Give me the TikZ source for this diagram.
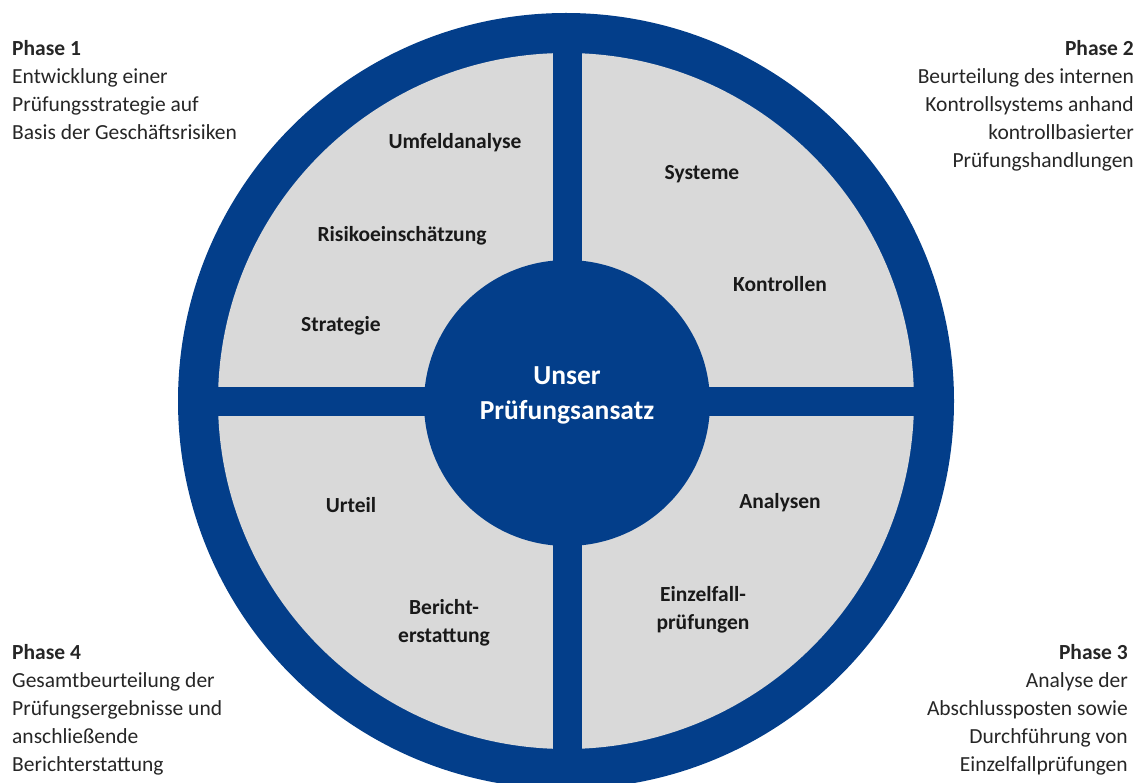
\documentclass[tikz,border=0pt]{standalone}
\usepackage{fontspec}
\setmainfont{Carlito}
\usetikzlibrary{positioning}

\definecolor{ringblue}{RGB}{3,62,138}
\definecolor{fieldgray}{RGB}{217,217,217}

\begin{document}
\begin{tikzpicture}[
  x=1pt, y=-1pt,
  item/.style = {font=\fontsize{21.5}{28}\selectfont\bfseries, align=center, text=black!90},
  hub/.style = {circle, fill=ringblue, minimum size=286pt, inner sep=0pt},
  hubtext/.style = {text=white, align=center, font=\fontsize{27.5}{35}\selectfont\bfseries},
  phase/.style = {font=\fontsize{21.5}{28}\selectfont, inner sep=0pt, text=black!85}
]
  \useasboundingbox (0,0) rectangle (1146,783);

  % Ring and the four fields
  \fill[ringblue] (566,401) circle (388pt);
  \fill[fieldgray] (566,401) circle (348pt);
  \fill[ringblue] (200,387) rectangle (932,416);
  \fill[ringblue] (553,30) rectangle (582,772);

  % Centre
  \node[hub] (hub) at (567,403) {};
  \node[hubtext] (ansatz) at ([yshift=8pt]hub.center) {Unser\\Prüfungsansatz};

  % Field entries
  \node[item] (umfeld) at (455,143) {Umfeldanalyse};
  \node[item] (risiko) at (402,236) {Risikoeinschätzung};
  \node[item] (strategie) at (341,326) {Strategie};
  \node[item] (systeme) at (702,174) {Systeme};
  \node[item] (kontrollen) at (780,284) {Kontrollen};
  \node[item] (analysen) at (780,503) {Analysen};
  \node[item] (einzelfall) at (703,610) {Einzelfall-\\prüfungen};
  \node[item] (urteil) at (351,505) {Urteil};
  \node[item] (bericht) at (444,623) {Bericht-\\erstattung};

  % Phase descriptions
  \node[phase, anchor=north west, align=left] (phase1) at (12,40)
    {\textbf{Phase 1}\\Entwicklung einer\\Prüfungsstrategie auf\\Basis der Geschäftsrisiken};
  \node[phase, anchor=north east, align=right] (phase2) at (1134,40)
    {\textbf{Phase 2}\\Beurteilung des internen\\Kontrollsystems anhand\\kontrollbasierter\\Prüfungshandlungen};
  \node[phase, anchor=north east, align=right] (phase3) at (1128,644)
    {\textbf{Phase 3}\\Analyse der\\Abschlussposten sowie\\Durchführung von\\Einzelfallprüfungen};
  \node[phase, anchor=north west, align=left] (phase4) at (12,644)
    {\textbf{Phase 4}\\Gesamtbeurteilung der\\Prüfungsergebnisse und\\anschließende\\Berichterstattung};
\end{tikzpicture}
\end{document}
